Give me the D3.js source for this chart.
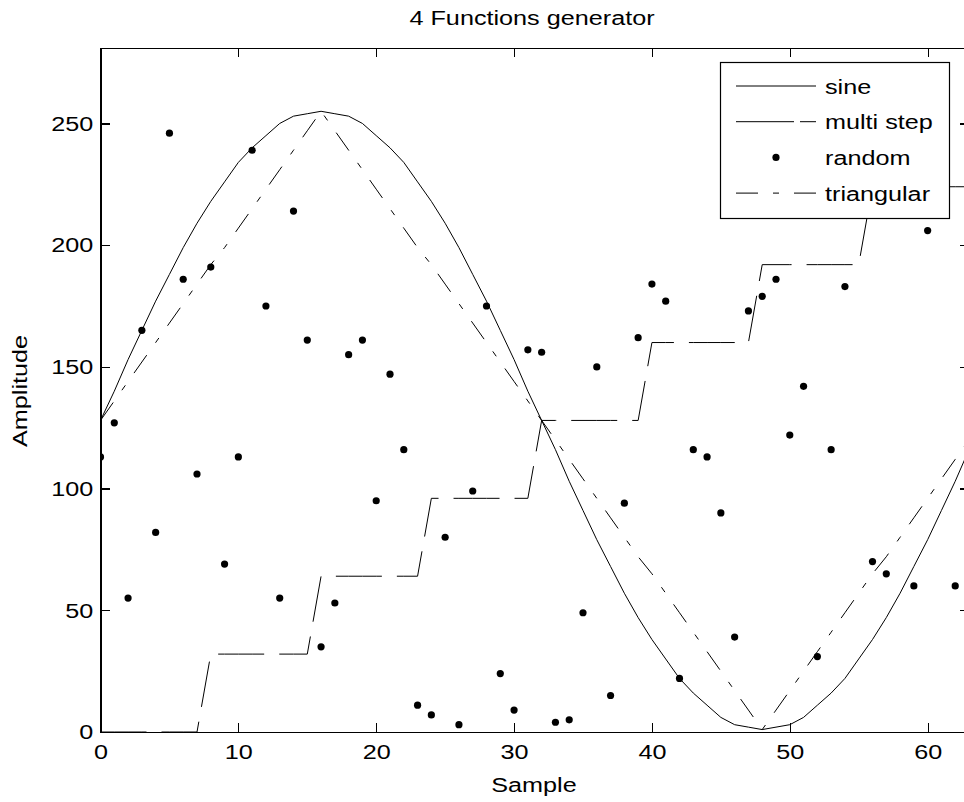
<!DOCTYPE html>
<html lang="en">
  <head>
    <meta charset="utf-8">
    <title>4 Functions generator</title>
    <script src="https://cdn.jsdelivr.net/npm/d3@7"></script>
    <style>
      body { margin: 0; background: #fff; }
      svg text {
        font-family: "Liberation Sans", Arial, Helvetica, sans-serif;
        font-size: 21px;
        fill: #000;
      }
      .axis path,
      .axis line {
        stroke: #000;
        stroke-width: 1.2;
        shape-rendering: crispEdges;
      }
    </style>
  </head>
  <body>
    <script>
      // sample index 0..63
      var samples = d3.range(64);

      var sine = [128, 140, 153, 165, 177, 188, 199, 209, 218, 226, 234, 240, 245, 250, 253, 254,
                  255, 254, 253, 250, 245, 240, 234, 226, 218, 209, 199, 188, 177, 165, 153, 140,
                  128, 116, 103, 91, 79, 68, 57, 47, 38, 30, 22, 16, 11, 6, 3, 2,
                  1, 2, 3, 6, 11, 16, 22, 30, 38, 47, 57, 68, 79, 91, 103, 116];

      var multiStep = [0, 0, 0, 0, 0, 0, 0, 0, 32, 32, 32, 32, 32, 32, 32, 32,
                       64, 64, 64, 64, 64, 64, 64, 64, 96, 96, 96, 96, 96, 96, 96, 96,
                       128, 128, 128, 128, 128, 128, 128, 128, 160, 160, 160, 160, 160, 160, 160, 160,
                       192, 192, 192, 192, 192, 192, 192, 192, 224, 224, 224, 224, 224, 224, 224, 224];

      var random = [113, 127, 55, 165, 82, 246, 186, 106, 191, 69, 113, 239, 175, 55, 214, 161,
                    35, 53, 155, 161, 95, 147, 116, 11, 7, 80, 3, 99, 175, 24, 9, 157,
                    156, 4, 5, 49, 150, 15, 94, 162, 184, 177, 22, 116, 113, 90, 39, 173,
                    179, 186, 122, 142, 31, 116, 183, 233, 70, 65, 252, 60, 206, 221, 60, 100];

      var triangular = [128, 136, 144, 152, 160, 168, 176, 184, 192, 199, 207, 215, 223, 231, 239, 247,
                        255, 247, 239, 231, 223, 215, 207, 199, 192, 184, 176, 168, 160, 152, 144, 136,
                        128, 120, 112, 104, 96, 88, 80, 72, 65, 57, 49, 41, 33, 25, 17, 9,
                        1, 9, 17, 25, 33, 41, 49, 57, 65, 72, 80, 88, 96, 104, 112, 120];

      var xTicks = [0, 10, 20, 30, 40, 50, 60];
      var yTicks = [0, 50, 100, 150, 200, 250];
      var legendNames = ["sine", "multi step", "random", "triangular"];

      var w = 964;
      var h = 802;
      var plotLeft = 100.5, plotRight = 969, plotTop = 48, plotBottom = 732;
      var stretch = "scale(1.2,1)"; // the reference font runs wide

      var xScale = d3.scaleLinear().domain([0, 63]).range([plotLeft, plotRight]);
      var yScale = d3.scaleLinear().domain([0, 281]).range([plotBottom, plotTop]);

      var svg = d3.select("body")
                  .append("svg")
                  .attr("width", w)
                  .attr("height", h);

      svg.append("clipPath")
         .attr("id", "plot-area")
         .append("rect")
         .attr("x", plotLeft)
         .attr("y", plotTop)
         .attr("width", plotRight - plotLeft)
         .attr("height", plotBottom - plotTop);

      var plot = svg.append("g").attr("clip-path", "url(#plot-area)");

      function lineFor(values) {
        return d3.line()
                 .x(function(d, i) { return xScale(samples[i]); })
                 .y(function(d) { return yScale(d); })(values);
      }

      plot.append("path")
          .attr("d", lineFor(sine))
          .attr("fill", "none")
          .attr("stroke", "#000")
          .attr("stroke-width", 1);

      plot.append("path")
          .attr("d", lineFor(multiStep))
          .attr("fill", "none")
          .attr("stroke", "#000")
          .attr("stroke-width", 1)
          .attr("stroke-dasharray", "46,15");

      plot.append("path")
          .attr("d", lineFor(triangular))
          .attr("fill", "none")
          .attr("stroke", "#000")
          .attr("stroke-width", 1)
          .attr("stroke-dasharray", "22,15,6,15");

      plot.selectAll("circle")
          .data(random)
          .enter()
          .append("circle")
          .attr("cx", function(d, i) { return xScale(samples[i]); })
          .attr("cy", function(d) { return yScale(d); })
          .attr("r", 3.6)
          .attr("fill", "#000");

      // axes, ticks pointing inward
      var xAxis = d3.axisBottom(xScale).tickValues(xTicks).tickSizeInner(-9).tickSizeOuter(0).tickPadding(12);
      var yAxis = d3.axisLeft(yScale).tickValues(yTicks).tickSizeInner(-9).tickSizeOuter(0).tickPadding(6);

      svg.append("g")
         .attr("class", "axis")
         .attr("transform", "translate(0," + plotBottom + ")")
         .call(xAxis)
         .selectAll("text")
         .attr("transform", stretch);

      svg.append("g")
         .attr("class", "axis")
         .attr("transform", "translate(" + plotLeft + ",0)")
         .call(yAxis)
         .selectAll("text")
         .attr("transform", stretch);

      svg.append("g")
         .attr("class", "axis")
         .attr("transform", "translate(0," + plotTop + ")")
         .call(d3.axisTop(xScale).tickValues(xTicks).tickSizeInner(-9).tickSizeOuter(0).tickFormat(""));

      svg.append("g")
         .attr("class", "axis")
         .attr("transform", "translate(" + plotRight + ",0)")
         .call(d3.axisRight(yScale).tickValues(yTicks).tickSizeInner(-9).tickSizeOuter(0).tickFormat(""));

      // titles
      svg.append("text")
         .attr("transform", "translate(532,25) " + stretch)
         .attr("text-anchor", "middle")
         .text("4 Functions generator");

      svg.append("text")
         .attr("transform", "translate(534,792) " + stretch)
         .attr("text-anchor", "middle")
         .text("Sample");

      svg.append("text")
         .attr("transform", "translate(27,391) rotate(-90) " + stretch)
         .attr("text-anchor", "middle")
         .text("Amplitude");

      // legend
      var legend = svg.append("g");
      legend.append("rect")
            .attr("x", 720.5)
            .attr("y", 62.5)
            .attr("width", 229)
            .attr("height", 156)
            .attr("fill", "#fff")
            .attr("stroke", "#000")
            .attr("stroke-width", 1.2);

      var legendDash = [null, "58,6,16", null, "22,15,6,15"];
      legendNames.forEach(function(name, i) {
        var ly = 86 + i * 35.7;
        if (name === "random") {
          legend.append("circle")
                .attr("cx", 776)
                .attr("cy", ly)
                .attr("r", 3.6)
                .attr("fill", "#000");
        } else {
          legend.append("line")
                .attr("x1", 736).attr("x2", 816)
                .attr("y1", ly).attr("y2", ly)
                .attr("stroke", "#000")
                .attr("stroke-width", 1)
                .attr("stroke-dasharray", legendDash[i]);
        }
        legend.append("text")
              .attr("transform", "translate(825," + (ly + 7.5) + ") " + stretch)
              .text(name);
      });
    </script>
  </body>
</html>
